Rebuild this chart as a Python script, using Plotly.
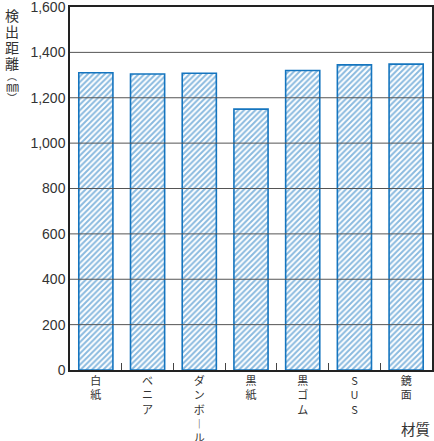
import plotly.graph_objects as go

categories = ["白紙", "ベニア", "ダンボール", "黒紙", "黒ゴム", "SUS", "鏡面"]
tick_labels = ["白<br>紙", "ベ<br>ニ<br>ア", "ダ<br>ン<br>ボ<br>︱<br>ル", "黒<br>紙", "黒<br>ゴ<br>ム", "S<br>U<br>S", "鏡<br>面"]
distances = [1310, 1305, 1308, 1150, 1320, 1345, 1348]
y_ticks = [0, 200, 400, 600, 800, 1000, 1200, 1400, 1600]
y_title_chars = ["検", "出", "距", "離", "︵", "㎜", "︶"]

blue = "#1575bf"
txt = "#333333"
font_fam = "Arial, Liberation Sans, Noto Sans CJK JP, sans-serif"

fig = go.Figure()
fig.add_trace(go.Bar(
    x=categories, y=distances,
    marker=dict(color="white", line=dict(color=blue, width=1.6),
                pattern=dict(shape="/", fgcolor=blue, bgcolor="white", size=4, solidity=0.5)),
    showlegend=False,
))

for v in y_ticks[1:-1]:
    fig.add_shape(type="line", xref="paper", yref="y", x0=0, x1=1, y0=v, y1=v,
                  line=dict(color="#555555", width=1), layer="above")

# vertical y-axis title, one character per line (pixel centres from top of figure)
plot_top, plot_h = 7, 363
title_centres = [15, 30.5, 46.5, 63, 75, 86, 98]
title_sizes = [14, 14, 14, 14, 10, 13, 10]
for ch, yc, fs in zip(y_title_chars, title_centres, title_sizes):
    fig.add_annotation(text=ch, xref="paper", yref="paper",
                       x=-0.16, y=1 - (yc - plot_top) / plot_h, xanchor="center", yanchor="middle",
                       showarrow=False, font=dict(size=fs, color=txt, family="Noto Sans CJK JP"))

fig.add_annotation(text="材質", xref="paper", yref="paper",
                   x=1.0, y=-0.128, xanchor="right", yanchor="top", showarrow=False,
                   font=dict(size=14.5, color=txt, family="Noto Sans CJK JP"))

fig.update_xaxes(tickvals=categories, ticktext=tick_labels, ticks="inside", ticklen=7,
                 tickcolor="#444", tickson="boundaries", showline=True, linecolor="#222",
                 linewidth=1.5, mirror=True, showgrid=False, automargin=False,
                 ticklabelstandoff=0,
                 tickfont=dict(size=11, color=txt, family="Noto Sans CJK JP"))
fig.update_yaxes(range=[0, 1600], tickvals=y_ticks, tickformat=",", showgrid=False,
                 showline=True, linecolor="#222", linewidth=1.5, mirror=True, ticks="",
                 zeroline=False, automargin=False, ticklabeloverflow="allow",
                 tickfont=dict(size=14, color=txt, family=font_fam))

fig.update_layout(width=434, height=441, margin=dict(l=70, r=2, t=7, b=71),
                  plot_bgcolor="white", paper_bgcolor="white", bargap=0.34,
                  font=dict(family=font_fam, color=txt))
fig.write_html("out.html", config={"displayModeBar": False},
               post_script="document.body.style.margin='0';document.body.style.overflow='hidden';")
